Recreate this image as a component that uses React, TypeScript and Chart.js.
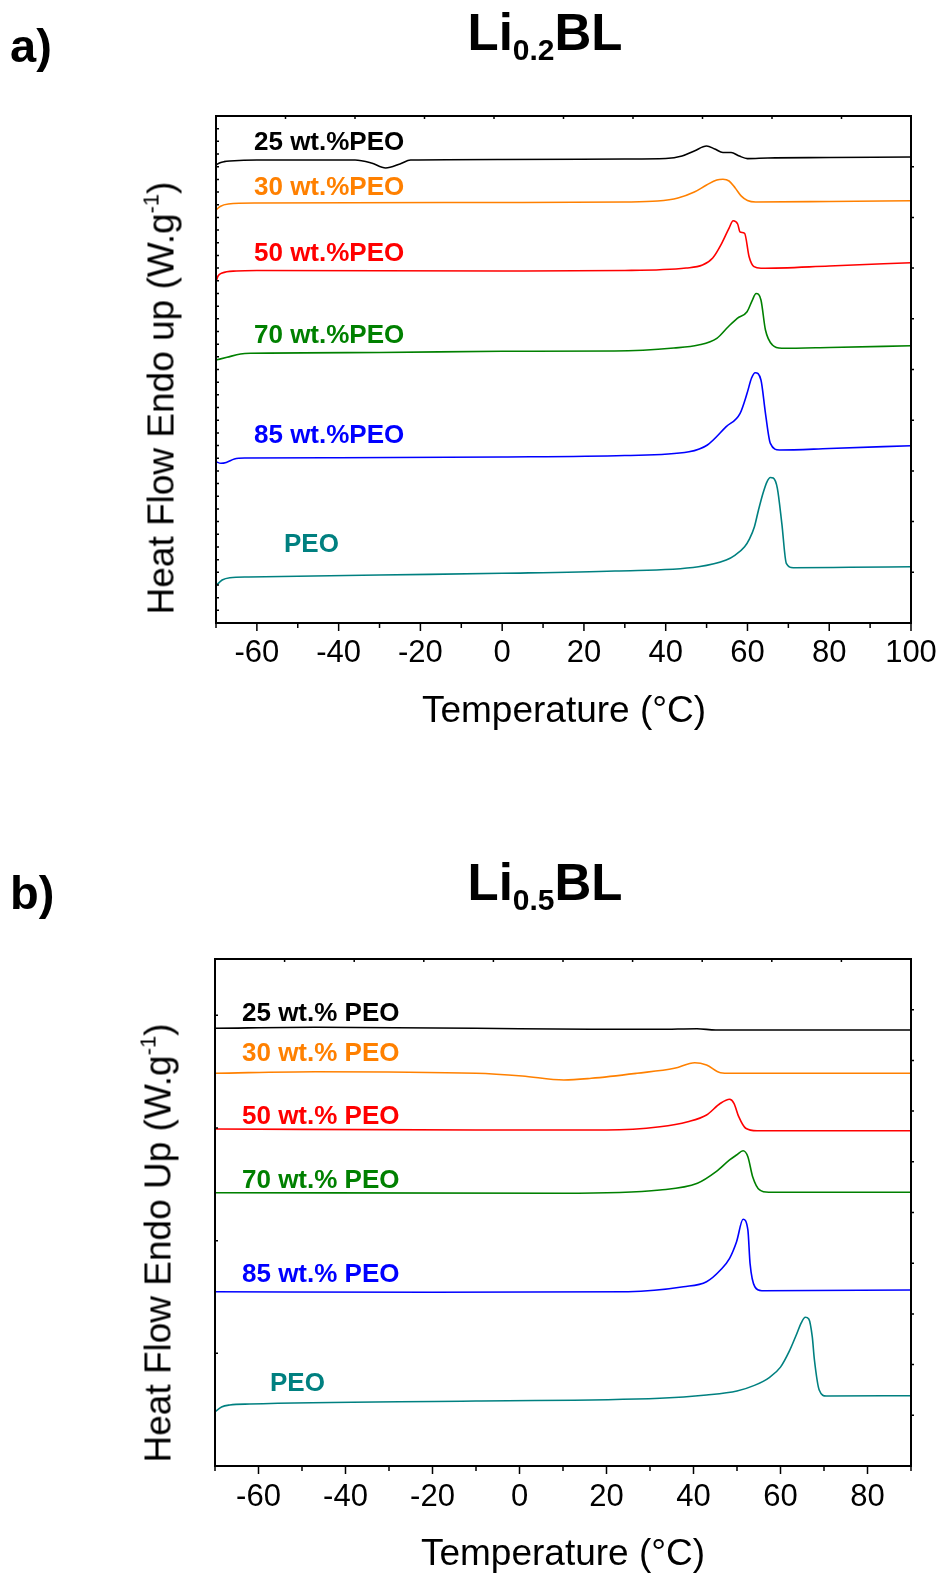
import React, { useEffect, useRef } from 'react';
import { Chart, registerables } from 'chart.js';
Chart.register(...registerables);

// ---------- Panel a (Li0.2BL) : temperature (°C) and heat flow (arbitrary, 0-100 of axis) ----------
const a25T = [-70, -69, -68, -66.6, -60, -45, -36, -32, -28.5, -25, -22.4, 0, 30, 40, 44, 47, 50, 52, 54, 56, 58, 60, 65, 80, 100];
const a25Y = [90.34, 90.8, 91.0, 91.12, 91.32, 91.32, 91.32, 90.73, 89.74, 90.53, 91.32, 91.42, 91.52, 91.62, 92.11, 93.1, 94.08, 93.5, 92.8, 92.8, 92.1, 91.6, 91.72, 91.8, 91.91];

const a30T = [-70, -69, -67, -60, 0, 30, 38, 43, 47, 50, 52.5, 54, 55.5, 57, 58.5, 60, 62, 80, 100];
const a30Y = [81.46, 82.15, 82.64, 82.84, 82.94, 83.04, 83.23, 83.83, 85.0, 86.39, 87.38, 87.51, 87.18, 85.8, 84.2, 83.33, 83.04, 83.14, 83.29];

const a50T = [-70, -69.5, -68.5, -65, -60, 0, 30, 45, 49, 51.5, 53.7, 55.5, 56.5, 57.6, 58.2, 59.3, 60.4, 61.6, 63.3, 80, 100];
const a50Y = [67.32, 68.44, 69.03, 69.43, 69.53, 69.43, 69.53, 70.02, 70.6, 71.99, 74.89, 77.9, 79.35, 78.7, 77.1, 76.86, 72.25, 70.28, 69.96, 70.41, 71.07];

const a70T = [-70, -67.3, -64, -61.6, -30, 0, 27.5, 42, 48, 52.5, 55.3, 57.5, 59.9, 61.2, 62.1, 63.3, 64.4, 66.1, 68.4, 80, 100];
const a70Y = [51.87, 52.41, 53.06, 53.2, 53.35, 53.59, 53.65, 54.24, 54.83, 56.15, 58.44, 60.1, 61.4, 63.7, 65.0, 63.71, 57.79, 54.83, 54.18, 54.34, 54.69];

const a85T = [-70, -68.8, -67.5, -65.5, -63, -40, 0, 30, 45.7, 50.2, 54.8, 58.2, 59.9, 61, 61.9, 63.3, 64.4, 65.6, 67.8, 80, 100];
const a85Y = [31.81, 31.5, 31.66, 32.35, 32.54, 32.6, 32.74, 33.04, 33.79, 35.11, 38.72, 41.36, 45.3, 48.32, 49.37, 47.93, 41.36, 35.44, 34.12, 34.42, 34.97];

const aPEOT = [-70, -68.5, -66.6, -62, -30, 0, 27.6, 48, 54.8, 57, 59.3, 60.5, 61.7, 62.7, 63.8, 64.8, 65.6, 66.3, 67.3, 68.4, 69.5, 71.2, 85, 100];
const aPEOY = [7.36, 8.48, 8.93, 9.07, 9.47, 9.8, 10.26, 11.1, 12.43, 13.4, 15.05, 16.6, 19.0, 22.3, 25.6, 27.9, 28.7, 28.6, 26.6, 19.66, 11.78, 10.91, 10.99, 11.1];

// ---------- Panel b (Li0.5BL) ----------
const b25T = [-70, -47, -10, 16.5, 32, 40.8, 45.1, 90];
const b25Y = [86.33, 86.53, 86.33, 86.13, 86.13, 86.25, 86.0, 86.0];

const b30T = [-70, -47, -10, 0.6, 10.2, 16.5, 27, 35.6, 40.3, 43, 46.2, 48.5, 90];
const b30Y = [77.46, 77.77, 77.46, 76.92, 76.13, 76.47, 77.46, 78.44, 79.55, 79.09, 77.57, 77.46, 77.46];

const b50T = [-70, -10, 20, 32.3, 38.7, 43, 46.2, 48.3, 49.3, 50.4, 52, 54.6, 90];
const b50Y = [66.47, 66.27, 66.27, 66.92, 67.91, 69.23, 71.54, 72.33, 71.54, 68.9, 66.61, 66.13, 66.13];

const b70T = [-70, 10, 32.3, 40.9, 45.2, 48.3, 49.9, 51.4, 52.5, 53.6, 55.2, 57.3, 90];
const b70Y = [53.91, 53.79, 54.44, 55.76, 58.05, 60.36, 61.34, 62.19, 61.01, 57.06, 54.44, 53.98, 53.98];

const b85T = [-70, -20, 25, 37.7, 43, 46.2, 48.3, 49.9, 51.4, 52.5, 53, 54.1, 55.7, 90];
const b85Y = [34.38, 34.26, 34.38, 35.36, 36.35, 38.66, 40.97, 44.24, 48.66, 46.55, 39.98, 35.36, 34.58, 34.71];

const bPEOT = [-70, -68.5, -66.6, -62, -10, 32.3, 43, 50, 54, 57.5, 60, 62, 63.6, 64.8, 65.7, 66.5, 67.3, 67.8, 68.9, 70.5, 90];
const bPEOY = [10.71, 11.64, 12.03, 12.23, 12.82, 13.35, 14.0, 14.8, 15.9, 17.5, 19.5, 22.6, 25.8, 28.3, 29.33, 29.0, 25.5, 20.91, 14.99, 13.81, 13.87];

// ---------- labels ----------
const aLabels = ['25 wt.%PEO', '30 wt.%PEO', '50 wt.%PEO', '70 wt.%PEO', '85 wt.%PEO', 'PEO'];
const bLabels = ['25 wt.% PEO', '30 wt.% PEO', '50 wt.% PEO', '70 wt.% PEO', '85 wt.% PEO', 'PEO'];
const colors = ['#000000', '#FF8000', '#FF0000', '#008000', '#0000FF', '#008080'];

const W = 941;
const H = 787;
const FONT = "'Liberation Sans', Arial, sans-serif";

type Cfg = {
  left: number; right: number; top: number; bottom: number;
  xMin: number; xMax: number; tickPad: number;
  leftTicks: number[];
};

function pts(t: number[], y: number[]) {
  return t.map((v, i) => ({ x: v, y: y[i] }));
}

function framePlugin(cfg: Cfg) {
  return {
    id: 'frame',
    afterDatasetsDraw(chart: any) {
      const { ctx, chartArea: ca, scales } = chart;
      const xs = scales.x;
      const ys = scales.y;
      ctx.save();
      ctx.strokeStyle = '#000';
      ctx.lineWidth = 1.5;
      ctx.beginPath();
      for (let v = cfg.xMin; v <= cfg.xMax; v += 10) {
        const px = xs.getPixelForValue(v);
        const len = v % 20 === 0 ? 8 : 5;
        ctx.moveTo(px, ca.bottom);
        ctx.lineTo(px, ca.bottom + len);
      }
      const span = cfg.xMax - cfg.xMin;
      for (let k = 1; k < 10; k++) {
        const px = xs.getPixelForValue(cfg.xMin + (span * k) / 10);
        ctx.moveTo(px, ca.top);
        ctx.lineTo(px, ca.top + 3);
      }
      cfg.leftTicks.forEach((v) => {
        const py = ys.getPixelForValue(v);
        ctx.moveTo(ca.left, py);
        ctx.lineTo(ca.left + 3, py);
      });
      for (let v = 10; v < 100; v += 10) {
        const py = ys.getPixelForValue(v);
        ctx.moveTo(ca.right, py);
        ctx.lineTo(ca.right + 3, py);
      }
      ctx.stroke();
      ctx.lineWidth = 2;
      ctx.strokeRect(ca.left, ca.top, ca.right - ca.left, ca.bottom - ca.top);
      ctx.restore();
    },
  };
}

function Panel({ cfg, series, top }: { cfg: Cfg; series: { t: number[]; y: number[]; color: string }[]; top: number }) {
  const ref = useRef<HTMLCanvasElement>(null);
  useEffect(() => {
    if (!ref.current) return;
    const chart = new Chart(ref.current, {
      type: 'line',
      data: {
        datasets: series.map((s) => ({
          data: pts(s.t, s.y),
          borderColor: s.color,
          borderWidth: 1.6,
          pointRadius: 0,
          cubicInterpolationMode: 'monotone',
          fill: false,
        })),
      },
      options: {
        responsive: false,
        animation: false,
        devicePixelRatio: 1,
        layout: { padding: { left: 0, right: W - cfg.right, top: cfg.top, bottom: 0 } },
        plugins: { legend: { display: false }, tooltip: { enabled: false } },
        scales: {
          x: {
            type: 'linear',
            position: 'bottom',
            min: cfg.xMin,
            max: cfg.xMax,
            ticks: {
              stepSize: 10,
              autoSkip: false,
              maxRotation: 0,
              minRotation: 0,
              padding: cfg.tickPad,
              color: '#000',
              font: { family: FONT, size: 31 },
              callback: (v: any) => (Number(v) % 20 === 0 ? String(v) : ''),
            },
            grid: { display: false, drawTicks: true, tickLength: 8 },
            border: { display: false },
            afterFit: (s: any) => {
              s.height = H - cfg.bottom;
            },
          },
          y: {
            type: 'linear',
            min: 0,
            max: 100,
            ticks: { display: false },
            grid: { display: false },
            border: { display: false },
            afterFit: (s: any) => {
              s.width = cfg.left;
            },
          },
        },
      } as any,
      plugins: [framePlugin(cfg)],
    });
    return () => chart.destroy();
  }, []);
  return (
    <canvas
      ref={ref}
      width={W}
      height={H}
      style={{ position: 'absolute', left: 0, top, width: W, height: H }}
    />
  );
}

const abs = (left: number, top: number, extra: React.CSSProperties = {}): React.CSSProperties => ({
  position: 'absolute',
  left,
  top,
  whiteSpace: 'nowrap',
  lineHeight: 1,
  fontFamily: FONT,
  ...extra,
});

const cfgA: Cfg = {
  left: 216, right: 911, top: 116, bottom: 623, xMin: -70, xMax: 100, tickPad: 4,
  leftTicks: Array.from({ length: 39 }, (_, i) => (i + 1) * 2.5),
};
const cfgB: Cfg = {
  left: 215, right: 911, top: 172, bottom: 679, xMin: -70, xMax: 90, tickPad: 5,
  leftTicks: [200 / 9, 400 / 9, 600 / 9, 800 / 9],
};

const seriesA = [
  { t: a25T, y: a25Y, color: colors[0] },
  { t: a30T, y: a30Y, color: colors[1] },
  { t: a50T, y: a50Y, color: colors[2] },
  { t: a70T, y: a70Y, color: colors[3] },
  { t: a85T, y: a85Y, color: colors[4] },
  { t: aPEOT, y: aPEOY, color: colors[5] },
];
const seriesB = [
  { t: b25T, y: b25Y, color: colors[0] },
  { t: b30T, y: b30Y, color: colors[1] },
  { t: b50T, y: b50Y, color: colors[2] },
  { t: b70T, y: b70Y, color: colors[3] },
  { t: b85T, y: b85Y, color: colors[4] },
  { t: bPEOT, y: bPEOY, color: colors[5] },
];

const aLabelY = [141, 186, 251.5, 334, 433.5, 543];
const bLabelY = [1012, 1052, 1114.5, 1178.5, 1273, 1381.5];

export default function App() {
  const center = 'translate(0,-50%)';
  const yTitle = (cx: number, cy: number, word: string) => (
    <div
      style={abs(cx, cy, {
        fontSize: 37,
        transform: 'translate(-50%,-50%) rotate(-90deg)',
      })}
    >
      Heat Flow Endo {word} (W.g
      <span style={{ fontSize: 22, position: 'relative', top: -15 }}>-1</span>)
    </div>
  );
  const title = (cy: number, sub: string) => (
    <div style={abs(545, cy, { fontSize: 51, fontWeight: 'bold', transform: 'translate(-50%,-50%)' })}>
      Li<span style={{ fontSize: 30, position: 'relative', top: 10 }}>{sub}</span>BL
    </div>
  );
  return (
    <div style={{ position: 'absolute', left: 0, top: 0, width: W, height: 1574, background: '#fff', overflow: 'hidden' }}>
      <Panel cfg={cfgA} series={seriesA} top={0} />
      <Panel cfg={cfgB} series={seriesB} top={H} />

      <div style={abs(10, 45, { fontSize: 47, fontWeight: 'bold', transform: center })}>a)</div>
      <div style={abs(10, 892, { fontSize: 47, fontWeight: 'bold', transform: center })}>b)</div>
      {title(32, '0.2')}
      {title(882, '0.5')}

      {yTitle(161, 398, 'up')}
      {yTitle(158, 1243, 'Up')}

      <div style={abs(564, 709, { fontSize: 37, transform: 'translate(-50%,-50%)' })}>Temperature (°C)</div>
      <div style={abs(563, 1552, { fontSize: 37, transform: 'translate(-50%,-50%)' })}>Temperature (°C)</div>

      {aLabels.map((l, i) => (
        <div key={'a' + i} style={abs(i === 5 ? 284 : 254, aLabelY[i], { fontSize: 26, fontWeight: 'bold', color: colors[i], transform: center })}>
          {l}
        </div>
      ))}
      {bLabels.map((l, i) => (
        <div key={'b' + i} style={abs(i === 5 ? 270 : 242, bLabelY[i], { fontSize: 26, fontWeight: 'bold', color: colors[i], transform: center })}>
          {l}
        </div>
      ))}
    </div>
  );
}
